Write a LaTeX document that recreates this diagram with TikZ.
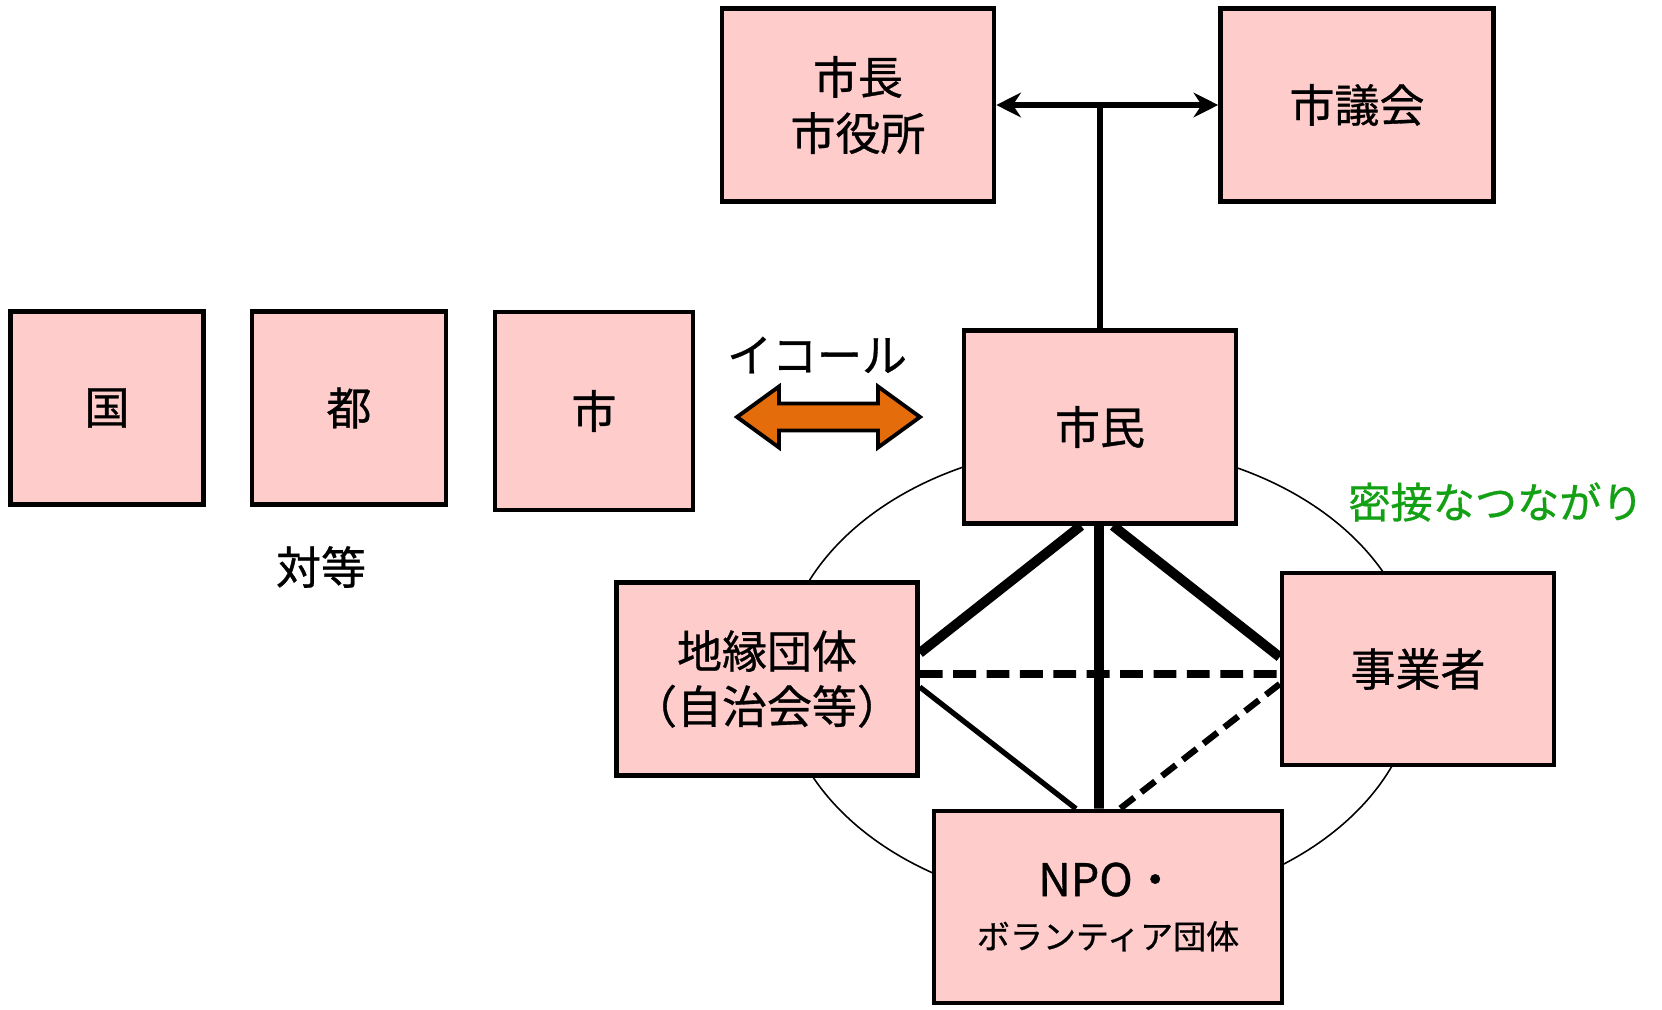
\documentclass[tikz,border=0pt]{standalone}
\usepackage{fontspec}
\setmainfont{Noto Sans CJK JP}[FakeBold=0.7,AutoFakeBold=0.7]
\usetikzlibrary{arrows.meta}
\definecolor{boxpink}{RGB}{255,204,204}
\definecolor{eqorange}{RGB}{228,108,10}
\definecolor{tiegreen}{RGB}{20,160,20}
\tikzset{
  orgbox/.style={draw, line width=1.3pt, fill=boxpink, inner sep=0pt, align=center,
    font=\fontsize{12.8}{16}\selectfont\bfseries},
  plain/.style={font=\fontsize{12.8}{16}\selectfont},
  strongtie/.style={line width=2.8pt},
  weaktie/.style={line width=1.5pt},
  dashtie/.style={line width=2.2pt, dash pattern=on 6.5pt off 3pt},
}
\begin{document}
\begin{tikzpicture}
    \useasboundingbox (0,0) rectangle (16.62,10.09);
    % ring behind the citizen group
    \draw[line width=0.45pt] (10.99,3.33) ellipse (3.18cm and 2.31cm);
    % left row
    \node[orgbox, minimum width=1.93cm, minimum height=1.93cm] (kuni) at (1.07,6.01) {国};
    \node[orgbox, minimum width=1.94cm, minimum height=1.93cm] (to) at (3.49,6.01) {都};
    \node[orgbox, minimum width=1.98cm, minimum height=1.98cm] (shi) at (5.94,5.98) {市};
    \node[plain] (taito) at (3.21,4.42) {対等};
    % top row
    \node[orgbox, minimum width=2.72cm, minimum height=1.93cm] (shicho) at (8.58,9.04) {市長\\市役所};
    \node[orgbox, minimum width=2.73cm, minimum height=1.93cm] (gikai) at (13.57,9.04) {市議会};
    % citizens and partners
    \node[orgbox, minimum width=2.72cm, minimum height=1.93cm] (shimin) at (11.00,5.82) {市民};
    \node[orgbox, minimum width=3.01cm, minimum height=1.93cm, font=\fontsize{12.8}{15.7}\selectfont\bfseries] (chien) at (7.67,3.30) {地縁団体\\（自治会等）};
    \node[orgbox, minimum width=2.72cm, minimum height=1.92cm] (jigyo) at (14.18,3.40) {事業者};
    \node[orgbox, minimum width=3.48cm, minimum height=1.92cm] (npo) at (11.08,1.02) {NPO・\\[-1pt]{\fontsize{9.4}{12}\selectfont ボランティア団体}};
    \node[plain] (equal) at (8.17,6.54) {イコール};
    \node[plain, text=tiegreen, font=\fontsize{12}{14}\selectfont] (missetsu) at (14.96,5.07) {密接なつながり};
    % equal arrow
    \draw[line width=1.1pt, fill=eqorange, line join=miter]
      (7.37,5.92) -- (7.79,6.225) -- (7.79,6.055) -- (8.78,6.055) -- (8.78,6.225)
      -- (9.20,5.92) -- (8.78,5.615) -- (8.78,5.785) -- (7.79,5.785) -- (7.79,5.615) -- cycle;
    % mayor and assembly
    \coordinate (joint) at (shimin.north |- shicho.east);
    \draw[line width=1.5pt, {Stealth[length=7pt,width=7pt]}-{Stealth[length=7pt,width=7pt]}] (shicho.east) -- (gikai.west);
    \draw[line width=1.5pt] (shimin.north) -- (joint);
    % ties among citizens
    \draw[strongtie] ([xshift=-0.19cm]shimin.south) -- ([yshift=0.26cm]chien.east);
    \draw[strongtie] ([xshift=0.13cm]shimin.south) -- ([yshift=0.12cm]jigyo.west);
    \draw[strongtie] ([xshift=-0.01cm]shimin.south) -- ([xshift=-0.09cm]npo.north);
    \draw[dashtie] ([yshift=0.05cm]chien.east) -- ([yshift=-0.05cm]jigyo.west);
    \draw[weaktie] ([yshift=-0.08cm]chien.east) -- ([xshift=-0.32cm]npo.north);
    \draw[weaktie, line width=1.8pt, dash pattern=on 5pt off 2.5pt] ([yshift=-0.15cm]jigyo.west) -- ([xshift=0.12cm]npo.north);
\end{tikzpicture}
\end{document}
